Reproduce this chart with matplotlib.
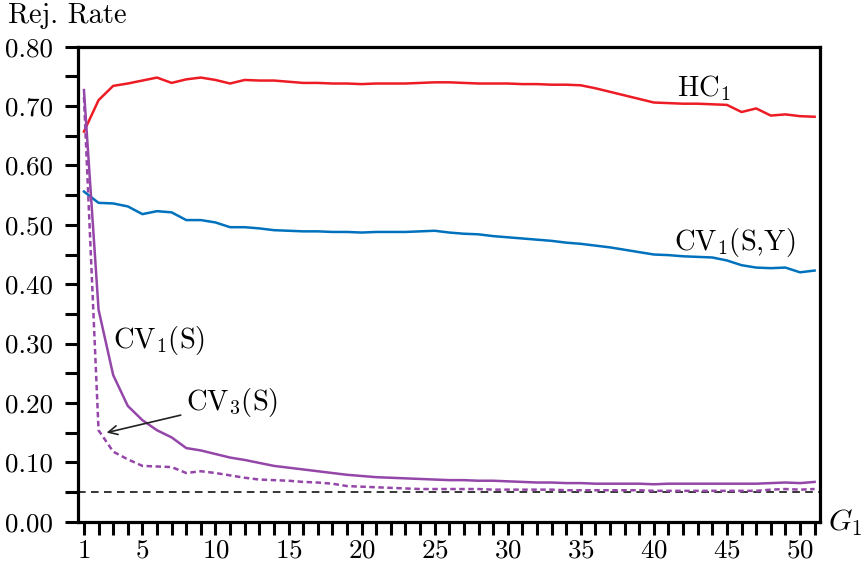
import matplotlib
matplotlib.use("Agg")
import matplotlib.pyplot as plt
from matplotlib.ticker import FormatStrFormatter, MultipleLocator

plt.rcParams["font.family"] = "serif"
plt.rcParams["font.serif"] = ["cmr10"]
plt.rcParams["mathtext.fontset"] = "cm"
plt.rcParams["axes.formatter.use_mathtext"] = True

g1 = list(range(1, 52))

hc1 = [0.657, 0.710, 0.734, 0.738, 0.743, 0.748, 0.739, 0.745, 0.748, 0.744,
       0.738, 0.744, 0.743, 0.743, 0.741, 0.739, 0.739, 0.738, 0.738, 0.737,
       0.738, 0.738, 0.738, 0.739, 0.740, 0.740, 0.739, 0.738, 0.738, 0.738,
       0.737, 0.737, 0.736, 0.736, 0.735, 0.730, 0.724, 0.718, 0.712, 0.706,
       0.705, 0.704, 0.704, 0.703, 0.702, 0.690, 0.696, 0.684, 0.686, 0.683,
       0.682]

cv1_sy = [0.556, 0.537, 0.536, 0.531, 0.518, 0.523, 0.521, 0.508, 0.508, 0.504,
          0.496, 0.496, 0.494, 0.491, 0.490, 0.489, 0.489, 0.488, 0.488, 0.487,
          0.488, 0.488, 0.488, 0.489, 0.490, 0.487, 0.485, 0.484, 0.481, 0.479,
          0.477, 0.475, 0.473, 0.470, 0.468, 0.465, 0.462, 0.458, 0.454, 0.450,
          0.449, 0.447, 0.446, 0.445, 0.440, 0.432, 0.428, 0.427, 0.428, 0.420,
          0.423]

cv1_s = [0.727, 0.357, 0.247, 0.195, 0.171, 0.154, 0.142, 0.124, 0.120, 0.114,
         0.108, 0.104, 0.099, 0.094, 0.091, 0.088, 0.085, 0.082, 0.079, 0.077,
         0.075, 0.074, 0.073, 0.072, 0.071, 0.070, 0.070, 0.069, 0.069, 0.068,
         0.067, 0.066, 0.066, 0.065, 0.065, 0.064, 0.064, 0.064, 0.064, 0.063,
         0.064, 0.064, 0.064, 0.064, 0.064, 0.064, 0.064, 0.065, 0.066, 0.065,
         0.067]

cv3_s = [0.715, 0.154, 0.118, 0.105, 0.094, 0.093, 0.092, 0.082, 0.085, 0.082,
         0.078, 0.074, 0.071, 0.070, 0.069, 0.067, 0.066, 0.064, 0.060, 0.059,
         0.058, 0.057, 0.056, 0.055, 0.055, 0.055, 0.055, 0.055, 0.054, 0.054,
         0.054, 0.054, 0.054, 0.053, 0.053, 0.053, 0.053, 0.053, 0.053, 0.052,
         0.052, 0.052, 0.052, 0.052, 0.052, 0.052, 0.052, 0.054, 0.055, 0.054,
         0.055]

alpha_level = 0.05
x_labels = [1, 5, 10, 15, 20, 25, 30, 35, 40, 45, 50]

red = "#ED1C24"
blue = "#0072BD"
purple = "#9546A9"

fig = plt.figure(figsize=(8.61, 5.64), dpi=100)
ax = fig.add_axes([0.0902, 0.075, 0.8622, 0.8422])

ax.axhline(alpha_level, color="black", lw=1.1, ls=(0, (5, 3.5)))
ax.plot(g1, hc1, color=red, lw=1.8)
ax.plot(g1, cv1_sy, color=blue, lw=1.8)
ax.plot(g1, cv1_s, color=purple, lw=1.8)
ax.plot(g1, cv3_s, color=purple, lw=1.8, ls=(0, (2.2, 1.4)))

ax.set_xlim(0.57, 51.37)
ax.set_ylim(0, 0.8)

ax.set_xticks(x_labels)
ax.xaxis.set_minor_locator(MultipleLocator(1))
ax.yaxis.set_major_locator(MultipleLocator(0.1))
ax.yaxis.set_minor_locator(MultipleLocator(0.05))
ax.yaxis.set_major_formatter(FormatStrFormatter("%.2f"))
for which in ("major", "minor"):
    ax.tick_params(axis="both", which=which, direction="out", length=9.5,
                   width=2.2, color="black")
ax.tick_params(axis="x", which="major", labelsize=19.5, pad=3)
ax.tick_params(axis="y", which="major", labelsize=19.5, pad=8)
for s in ax.spines.values():
    s.set_linewidth(2.3)

fs = 20.5
ax.text(43.4, 0.730, "HC$_1$", fontsize=fs, ha="center", va="center")
ax.text(45.5, 0.471, "CV$_1$(S,Y)", fontsize=fs, ha="center", va="center")
ax.text(3.0, 0.305, "CV$_1$(S)", fontsize=fs, ha="left", va="center")
ax.annotate("CV$_3$(S)", xy=(2.55, 0.150), xytext=(8.0, 0.200),
            fontsize=fs, ha="left", va="center",
            arrowprops=dict(arrowstyle="->", color="#222222", lw=1.2,
                            shrinkA=2, shrinkB=0, mutation_scale=16))

fig.text(8 / 861, 1 - 16 / 564, "Rej. Rate", fontsize=fs, ha="left", va="center")
fig.text(828 / 861, 1 - 523 / 564, "$G_1$", fontsize=fs + 1, ha="left", va="center")

fig.savefig("out.png", dpi=100)
